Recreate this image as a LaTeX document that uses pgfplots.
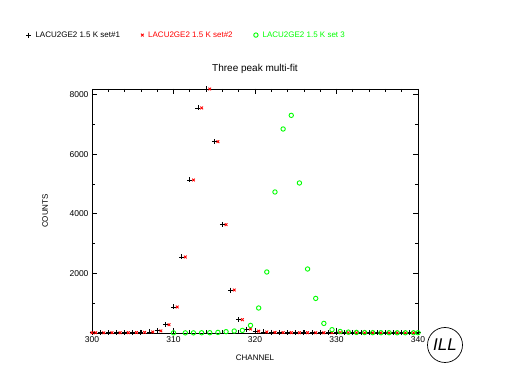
\documentclass[border=0pt]{standalone}
\usepackage{fontspec}
\setmainfont{Liberation Sans}
\usepackage{pgfplots}
\usepackage{pgfplotstable}
\pgfplotsset{compat=1.18}
\definecolor{pgreen}{RGB}{0,255,0}
\definecolor{pred}{RGB}{255,0,0}

\pgfplotstableread{
x y
300 8
301 6
302 10
303 8
304 12
305 15
306 20
307 35
308 70
309 279
310 873
311 2551
312 5136
313 7553
314 8190
315 6422
316 3636
317 1443
318 446
319 134
320 60
321 34
322 20
323 15
324 12
325 10
326 10
327 8
328 8
329 8
330 10
331 8
332 8
333 6
334 8
335 6
336 6
337 6
338 5
339 5
340 5
}\setone

\pgfplotstableread{
x y
300 10
300.45 8
301.45 6
302.45 10
303.45 8
304.45 12
305.45 15
306.45 20
307.45 35
308.45 70
309.45 279
310.45 873
311.45 2551
312.45 5136
313.45 7553
314.45 8190
315.45 6422
316.45 3636
317.45 1443
318.45 446
319.45 134
320.45 60
321.45 34
322.45 20
323.45 15
324.45 12
325.45 10
326.45 10
327.45 8
328.45 8
329.45 8
330.45 10
331.45 8
332.45 8
333.45 6
334.45 8
335.45 6
336.45 6
337.45 6
338.45 5
339.45 5
}\settwo

\pgfplotstableread{
x y
310 5
311.45 5
312.45 5
313.45 8
314.45 10
315.45 20
316.45 44
317.45 67
318.45 87
319.45 255
320.45 839
321.45 2048
322.45 4733
323.45 6848
324.45 7305
325.45 5036
326.45 2148
327.45 1161
328.45 322
329.45 111
330.45 50
331.45 30
332.45 20
333.45 15
334.45 12
335.45 10
336.45 10
337.45 8
338.45 8
339.45 8
340 8
}\setthree

\begin{document}
\begin{tikzpicture}[x=1pt,y=1pt]
\useasboundingbox (0,0) rectangle (508,390);
\begin{axis}[
  at={(92pt,57pt)}, anchor=south west,
  scale only axis, width=326pt, height=244pt,
  xmin=300, xmax=340, ymin=0, ymax=8190,
  xtick={300,310,...,340},
  minor xtick={302,304,...,338},
  ytick={2000,4000,6000,8000},
  minor ytick={1000,3000,5000,7000},
  tick align=inside, major tick length=5pt, minor tick length=3pt,
  axis line style={line width=0.8pt},
  every tick/.style={line width=0.8pt, black},
  tick label style={font=\fontsize{8.5}{10}\selectfont},
  /pgf/number format/assume math mode=true,
  /pgf/number format/set thousands separator={},
  scaled y ticks=false,
  xlabel={CHANNEL}, ylabel={COUNTS},
  label style={font=\fontsize{8}{10}\selectfont},
  xlabel style={at={(axis description cs:0.5,-0.1025)}, anchor=center},
  ylabel style={at={(axis description cs:-0.144,0.5)}, anchor=center},
  title={Three peak multi-fit},
  title style={at={(axis description cs:0.5,1.057)}, anchor=center, yshift=0pt, font=\fontsize{10}{12}\selectfont},
  clip=false,
  legend style={at={(axis description cs:-0.203,1.221)}, anchor=west, draw=none, fill=none,
     legend columns=3, font=\fontsize{8}{10}\selectfont, inner sep=0pt,
     /tikz/every even column/.style={column sep=0pt}},
  legend image code/.code={\draw plot coordinates {(0pt,0pt)};},
]
\addplot[only marks, mark=+, mark size=2.5pt, black, line width=0.9pt] table {\setone};
\addlegendentry{\makebox[106pt][l]{\hspace{2.5pt}LACU2GE2 1.5 K set\#1}}
\addplot[only marks, mark=x, mark size=1.9pt, pred, line width=0.9pt] table {\settwo};
\addlegendentry{\makebox[106pt][l]{\hspace{2.5pt}\textcolor{pred}{LACU2GE2 1.5 K set\#2}}}
\addplot[only marks, mark=o, mark size=2.2pt, pgreen, line width=0.9pt] table {\setthree};
\addlegendentry{\hspace{2.5pt}\textcolor{pgreen}{LACU2GE2 1.5 K set 3}}
\end{axis}
\node[draw, circle, minimum size=35pt, inner sep=0pt, line width=0.7pt, font=\fontsize{17}{17}\selectfont\itshape] at (445,45) {ILL};
\end{tikzpicture}
\end{document}
